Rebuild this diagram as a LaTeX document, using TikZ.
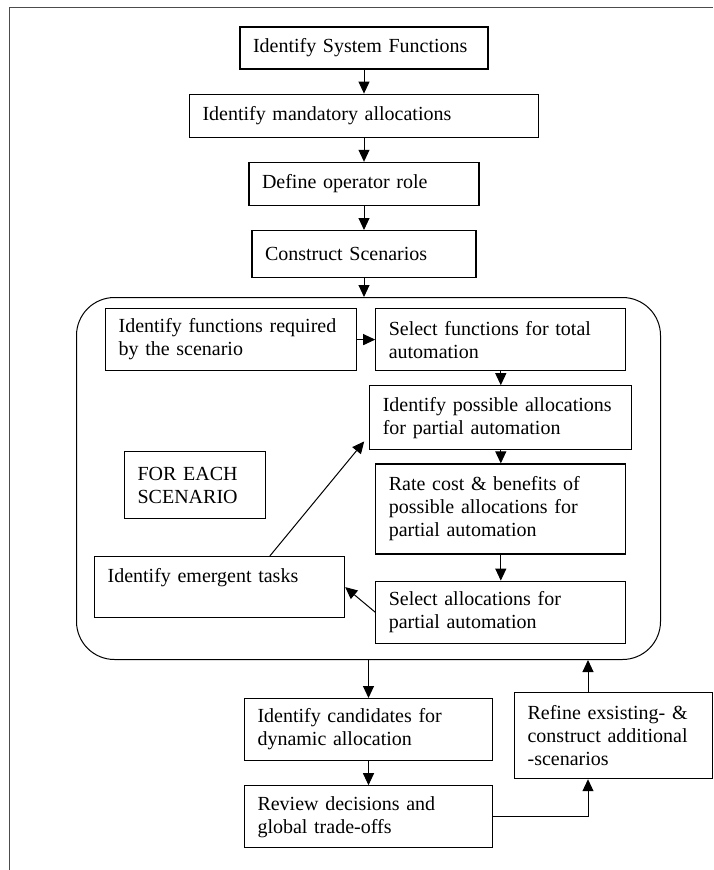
\documentclass[tikz,border=0pt]{standalone}
\usepackage{fontspec}
\setmainfont{Liberation Serif}
\usetikzlibrary{positioning,arrows.meta,calc}

\begin{document}
\begin{tikzpicture}[
  x=1pt, y=-1pt,
  font=\fontsize{20}{23}\selectfont,
  stepbox/.style={draw, align=left, inner xsep=13pt, inner ysep=3pt, line width=1.2pt},
  node distance=24pt, >={Triangle[length=12pt,width=11pt]}, every path/.style={line width=1pt}]
\useasboundingbox (0,0) rectangle (713,870);
% page frame
\draw[black!70, line width=0.8pt] (9,870) -- (9,7) -- (713,7);
% main column
\node[stepbox, text width=222pt, minimum height=42pt] (sysfn) at (364,48) {Identify System Functions};
\node[stepbox, text width=323pt, minimum height=43pt, below=of sysfn] (mandat) {Identify mandatory allocations};
\node[stepbox, text width=204pt, minimum height=43pt, below=of mandat] (oprole) {Define operator role};
\node[stepbox, text width=198pt, minimum height=47pt, below=of oprole] (constr) {Construct Scenarios};
% scenario loop
\node[draw, rounded corners=38pt, minimum width=584pt, minimum height=362pt, anchor=north west] (loop) at (76,297) {};
\node[stepbox, text width=225pt, minimum height=62pt, anchor=north west] (reqfn) at (105,308) {Identify functions required\\by the scenario};
\node[stepbox, text width=224pt, minimum height=62pt, right=18pt of reqfn] (totfn) {Select functions for total\\automation};
\node[stepbox, text width=236pt, minimum height=64pt, below=14pt of totfn] (possal) {Identify possible allocations\\for partial automation};
\node[stepbox, text width=224pt, minimum height=90pt, below=13pt of possal] (ratecb) {Rate cost \& benefits of\\possible allocations for\\partial automation};
\node[stepbox, text width=224pt, minimum height=62pt, below=26pt of ratecb] (selal) {Select allocations for\\partial automation};
\node[stepbox, text width=224pt, minimum height=61pt, anchor=north west] (emerg) at (94,556) {Identify emergent tasks\\\mbox{}};
\node[stepbox, text width=115pt, minimum height=67pt, anchor=north west] (each) at (124,451) {FOR EACH\\SCENARIO};
% after the loop
\node[stepbox, text width=222pt, minimum height=62pt, below=38pt of loop] (cand) {Identify candidates for\\dynamic allocation};
\node[stepbox, text width=222pt, minimum height=62pt, below=of cand] (review) {Review decisions and\\global trade-offs};
\node[stepbox, text width=172pt, minimum height=86pt, anchor=north west] (refine) at (514,692) {Refine exsisting- \&\\construct additional\\-scenarios};
\coordinate (rx) at (588,0);
\draw[->] (sysfn) -- (mandat);
\draw[->] (mandat) -- (oprole);
\draw[->] (oprole) -- (constr);
\draw[->] (constr) -- (constr |- loop.north);
\draw[->] (reqfn) -- (totfn);
\draw[->] (totfn) -- (possal);
\draw[->] (possal) -- (ratecb);
\draw[->] (ratecb) -- (selal);
\draw[->] (selal.west) -- (emerg.east);
\draw[->] ($(emerg.north west)!0.7!(emerg.north east)$) -- ([xshift=-5pt,yshift=9pt]possal.south west);
\draw[->] (cand |- loop.south) -- (cand);
\draw[->] (cand) -- (review);
\draw[->] (review.east) -| (rx |- refine.south);
\draw[->] (rx |- refine.north) -- (rx |- loop.south);
\end{tikzpicture}
\end{document}
